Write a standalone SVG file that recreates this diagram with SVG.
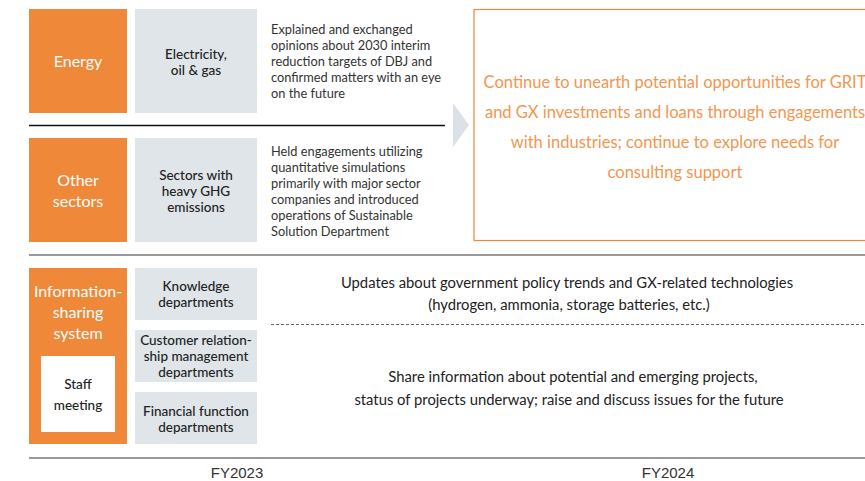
<svg xmlns="http://www.w3.org/2000/svg" width="865" height="481" viewBox="0 0 865 481">
<style>
.or{fill:#ef8838}
.gr{fill:#dfe5e9}
.wt{font-family:Lato,"Noto Sans",sans-serif;font-size:16px;fill:#fff;text-anchor:middle}
.lb{font-family:Lato,"Noto Sans",sans-serif;font-size:13.5px;fill:#222;text-anchor:middle;font-weight:500}
.ds{font-family:Lato,"Noto Sans",sans-serif;font-size:12.8px;fill:#333}
.ot{font-family:Lato,"Noto Sans",sans-serif;font-size:16.5px;fill:#f29650;text-anchor:middle}
.ct{font-family:Lato,"Noto Sans",sans-serif;font-size:14.8px;fill:#222;text-anchor:middle}
.fy{font-family:"Liberation Sans",Arial,sans-serif;font-size:15px;fill:#333;text-anchor:middle}
</style>
<rect width="865" height="481" fill="#fff"/>
<g id="energy">
<rect class="or" x="29" y="9" width="98" height="104"/>
<text class="wt" x="78" y="67">Energy</text>
</g>
<g id="electricity">
<rect class="gr" x="135" y="9" width="122" height="104"/>
<text class="lb" x="196" y="59">Electricity,</text>
<text class="lb" x="196" y="75">oil &amp; gas</text>
</g>
<g id="energy-desc">
<text class="ds" x="271" y="34">Explained and exchanged</text>
<text class="ds" x="271" y="50">opinions about 2030 interim</text>
<text class="ds" x="271" y="66">reduction targets of DBJ and</text>
<text class="ds" x="271" y="82">confirmed matters with an eye</text>
<text class="ds" x="271" y="98">on the future</text>
</g>
<g id="other">
<rect class="or" x="29" y="138" width="98" height="104"/>
<text class="wt" x="78" y="186">Other</text>
<text class="wt" x="78" y="207">sectors</text>
</g>
<g id="sectors">
<rect class="gr" x="135" y="138" width="122" height="104"/>
<text class="lb" x="196" y="180">Sectors with</text>
<text class="lb" x="196" y="196">heavy GHG</text>
<text class="lb" x="196" y="212">emissions</text>
</g>
<g id="other-desc">
<text class="ds" x="271" y="156">Held engagements utilizing</text>
<text class="ds" x="271" y="172">quantitative simulations</text>
<text class="ds" x="271" y="188">primarily with major sector</text>
<text class="ds" x="271" y="204">companies and introduced</text>
<text class="ds" x="271" y="220">operations of Sustainable</text>
<text class="ds" x="271" y="236">Solution Department</text>
</g>
<g id="outlook">
<rect x="474" y="9.5" width="400" height="231" fill="none" stroke="#f0883a" stroke-width="1.2"/>
<text class="ot" x="675" y="88">Continue to unearth potential opportunities for GRIT</text>
<text class="ot" x="675" y="118">and GX investments and loans through engagements</text>
<text class="ot" x="675" y="148">with industries; continue to explore needs for</text>
<text class="ot" x="675" y="178">consulting support</text>
</g>
<g id="info">
<rect class="or" x="29" y="268" width="98" height="176"/>
<text class="wt" x="78" y="297">Information-</text>
<text class="wt" x="78" y="318">sharing</text>
<text class="wt" x="78" y="339">system</text>
</g>
<g id="staff">
<rect x="41" y="356" width="74" height="76" fill="#fff"/>
<text class="lb" x="78" y="389">Staff</text>
<text class="lb" x="78" y="410">meeting</text>
</g>
<g id="knowledge">
<rect class="gr" x="135" y="268" width="122" height="52"/>
<text class="lb" x="196" y="291">Knowledge</text>
<text class="lb" x="196" y="307">departments</text>
</g>
<g id="customer">
<rect class="gr" x="135" y="330" width="122" height="52"/>
<text class="lb" x="196" y="345">Customer relation-</text>
<text class="lb" x="196" y="361">ship management</text>
<text class="lb" x="196" y="377">departments</text>
</g>
<g id="financial">
<rect class="gr" x="135" y="392" width="122" height="52"/>
<text class="lb" x="196" y="416">Financial function</text>
<text class="lb" x="196" y="432">departments</text>
</g>
<g id="updates">
<text class="ct" x="567" y="288">Updates about government policy trends and GX-related technologies</text>
<text class="ct" x="569" y="310">(hydrogen, ammonia, storage batteries, etc.)</text>
</g>
<g id="share">
<text class="ct" x="573" y="382">Share information about potential and emerging projects,</text>
<text class="ct" x="569" y="405">status of projects underway; raise and discuss issues for the future</text>
</g>
<g id="connectors">
<line x1="29" y1="125.5" x2="445" y2="125.5" stroke="#111" stroke-width="1.3"/>
<polygon points="453,103 469,125 453,147" fill="#dbe1e6"/>
<line x1="29" y1="255" x2="865" y2="255" stroke="#777" stroke-width="1.5"/>
<line x1="271" y1="324.5" x2="865" y2="324.5" stroke="#666" stroke-width="1" stroke-dasharray="3,2"/>
<line x1="29" y1="458" x2="865" y2="458" stroke="#777" stroke-width="1.5"/>
</g>
<g id="years">
<text class="fy" x="237" y="478">FY2023</text>
<text class="fy" x="668" y="478">FY2024</text>
</g>
</svg>
